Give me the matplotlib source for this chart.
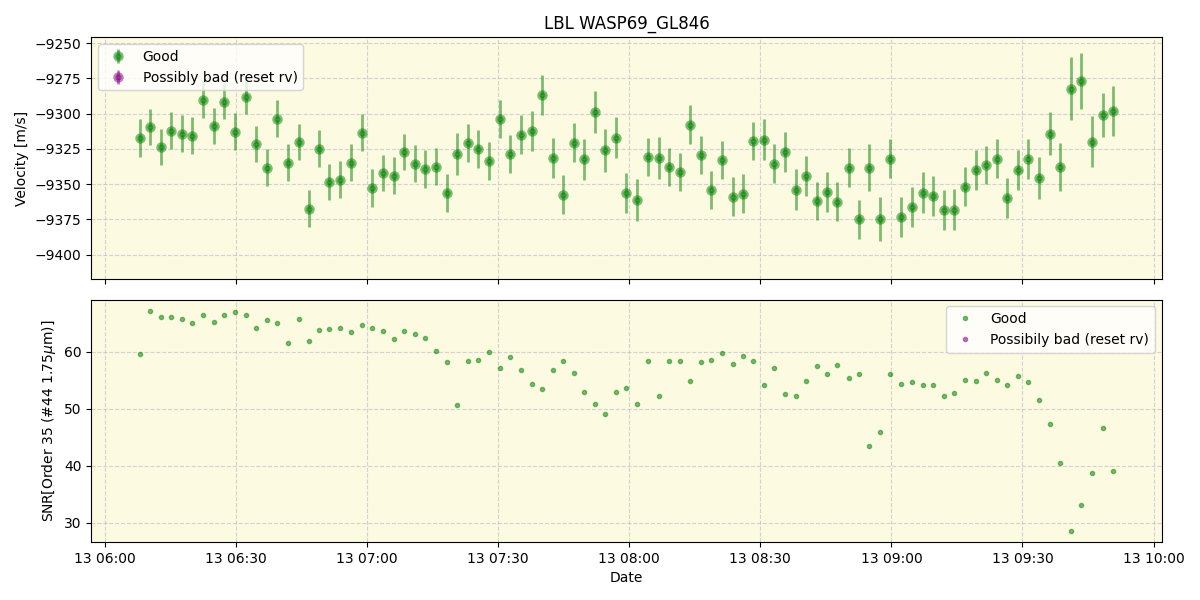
import numpy as np
import pandas as pd
import matplotlib
matplotlib.use("Agg")
import matplotlib.pyplot as plt
import matplotlib.dates as mdates

# minutes after 06:00 for each exposure
minutes = [
    8.0, 10.4, 12.8, 15.1, 17.7, 20.0, 22.5, 24.9, 27.3, 29.8,
    32.2, 34.6, 37.1, 39.4, 42.0, 44.4, 46.7, 49.0, 51.4, 53.8,
    56.4, 58.8, 61.1, 63.6, 66.1, 68.4, 70.9, 73.3, 75.7, 78.3,
    80.6, 83.1, 85.4, 87.8, 90.4, 92.7, 95.2, 97.7, 100.0, 102.6,
    104.9, 107.4, 109.7, 112.2, 114.5, 117.0, 119.3, 121.8, 124.3, 126.8,
    129.1, 131.7, 133.9, 136.5, 138.7, 141.3, 143.8, 146.1, 148.4, 150.9,
    153.2, 155.7, 158.2, 160.5, 163.0, 165.3, 167.6, 170.3, 172.6, 174.9,
    177.4, 179.7, 182.2, 184.7, 187.3, 189.5, 192.1, 194.4, 196.9, 199.4,
    201.7, 204.2, 206.5, 209.0, 211.3, 213.8, 216.3, 218.6, 221.1, 223.4,
    225.9, 228.4, 230.7,
]

rv = [
    -9317.0, -9309.2, -9323.4, -9312.0, -9314.2, -9315.6, -9290.0, -9308.5, -9291.4, -9312.7,
    -9287.9, -9321.3, -9338.3, -9303.5, -9334.8, -9320.1, -9367.4, -9324.8, -9348.5, -9346.8,
    -9334.8, -9313.4, -9352.5, -9341.9, -9344.0, -9327.2, -9335.5, -9339.0, -9337.6, -9356.1,
    -9328.4, -9320.8, -9324.8, -9333.6, -9303.5, -9328.4, -9314.9, -9312.0, -9286.5, -9331.2,
    -9357.5, -9320.5, -9332.4, -9298.5, -9326.0, -9317.0, -9356.1, -9361.0, -9330.5, -9331.2,
    -9337.6, -9341.1, -9307.8, -9329.1, -9353.9, -9332.6, -9358.9, -9356.8, -9319.1, -9318.4,
    -9335.5, -9326.9, -9353.9, -9344.0, -9361.7, -9355.3, -9362.5, -9338.3, -9374.8, -9338.3,
    -9374.8, -9331.9, -9373.1, -9366.0, -9356.1, -9358.2, -9368.1, -9368.1, -9351.8, -9339.7,
    -9336.2, -9331.9, -9359.6, -9339.7, -9331.9, -9345.4, -9314.2, -9337.6, -9282.2, -9276.5,
    -9319.8, -9300.7, -9297.8,
]

rv_err = [
    13.4, 12.7, 12.7, 13.1, 13.0, 13.0, 13.3, 12.9, 12.6, 13.0,
    12.6, 12.7, 13.0, 13.1, 13.1, 13.0, 13.0, 13.1, 12.8, 13.1,
    13.1, 13.4, 13.4, 12.7, 13.1, 13.0, 13.1, 13.5, 13.3, 13.4,
    14.9, 13.4, 13.5, 13.5, 13.4, 13.5, 13.8, 14.2, 14.2, 14.2,
    13.8, 13.8, 14.6, 14.9, 15.3, 14.6, 14.2, 14.9, 13.5, 14.9,
    13.5, 13.5, 13.8, 13.5, 13.5, 13.5, 13.8, 13.8, 13.5, 14.6,
    13.8, 14.2, 14.6, 14.2, 13.5, 14.2, 13.8, 13.8, 13.8, 16.7,
    15.6, 13.8, 14.2, 14.2, 14.6, 14.2, 14.2, 14.6, 13.8, 14.2,
    13.5, 13.8, 14.2, 14.2, 14.2, 14.9, 15.3, 17.0, 22.3, 19.9,
    18.1, 15.6, 17.8,
]

snr = [
    59.5, 67.2, 66.1, 66.1, 65.8, 65.1, 66.5, 65.2, 66.5, 67.0,
    66.5, 64.2, 65.6, 65.1, 61.6, 65.8, 61.9, 63.8, 64.0, 64.2,
    63.5, 64.7, 64.2, 63.7, 62.3, 63.7, 63.1, 62.4, 60.2, 58.1,
    50.6, 58.4, 58.6, 60.0, 57.2, 59.0, 56.7, 54.4, 53.4, 56.7,
    58.3, 56.2, 52.9, 50.8, 49.0, 52.9, 53.7, 50.8, 58.4, 52.2,
    58.3, 58.3, 54.8, 58.1, 58.6, 59.7, 57.9, 59.3, 58.3, 54.2,
    57.2, 52.5, 52.2, 54.8, 57.4, 56.0, 57.6, 55.3, 56.0, 43.4,
    45.9, 56.0, 54.4, 54.6, 54.1, 54.1, 52.2, 52.7, 55.1, 54.8,
    56.2, 55.1, 54.1, 55.8, 54.6, 51.6, 47.4, 40.5, 28.6, 33.1,
    38.7, 46.6, 39.1,
]

t0 = pd.Timestamp("2019-08-13 06:00:00")
dates = t0 + pd.to_timedelta(minutes, unit="m")

fig, (ax1, ax2) = plt.subplots(2, 1, figsize=(12, 6), dpi=100, sharex=True)
fig.subplots_adjust(left=0.076, right=0.968, top=0.938, bottom=0.097, hspace=0.083)

bg = "#fcfae1"
for ax in (ax1, ax2):
    ax.set_facecolor(bg)
    ax.grid(True, linestyle="--", color="#b8b8c8", alpha=0.6)
    ax.set_axisbelow(True)

# thick marker edge -> light ring with darker centre, like the original
ax1.errorbar(dates, rv, yerr=rv_err, fmt="o", color="green", alpha=0.5,
             ms=4.5, mew=3, elinewidth=2, label="Good")
ax1.errorbar([], [], yerr=[], fmt="o", color="purple", alpha=0.5,
             ms=4.5, mew=3, elinewidth=2, label="Possibly bad (reset rv)")
ax1.set_ylim(-9417.6, -9245.7)
ax1.set_ylabel("Velocity [m/s]")
ax1.set_title("LBL WASP69_GL846")
ax1.legend(loc="upper left")

ax2.plot(dates, snr, ".", color="green", alpha=0.5, label="Good")
ax2.plot([], [], ".", color="purple", alpha=0.5, label="Possibily bad (reset rv)")
ax2.set_ylabel(r"SNR[Order 35 (#44 1.75$\mu$m)]")
ax2.set_xlabel("Date")
ax2.legend(loc="upper right")
ax2.xaxis.set_major_formatter(mdates.DateFormatter("%d %H:%M"))

plt.savefig("out.png")
